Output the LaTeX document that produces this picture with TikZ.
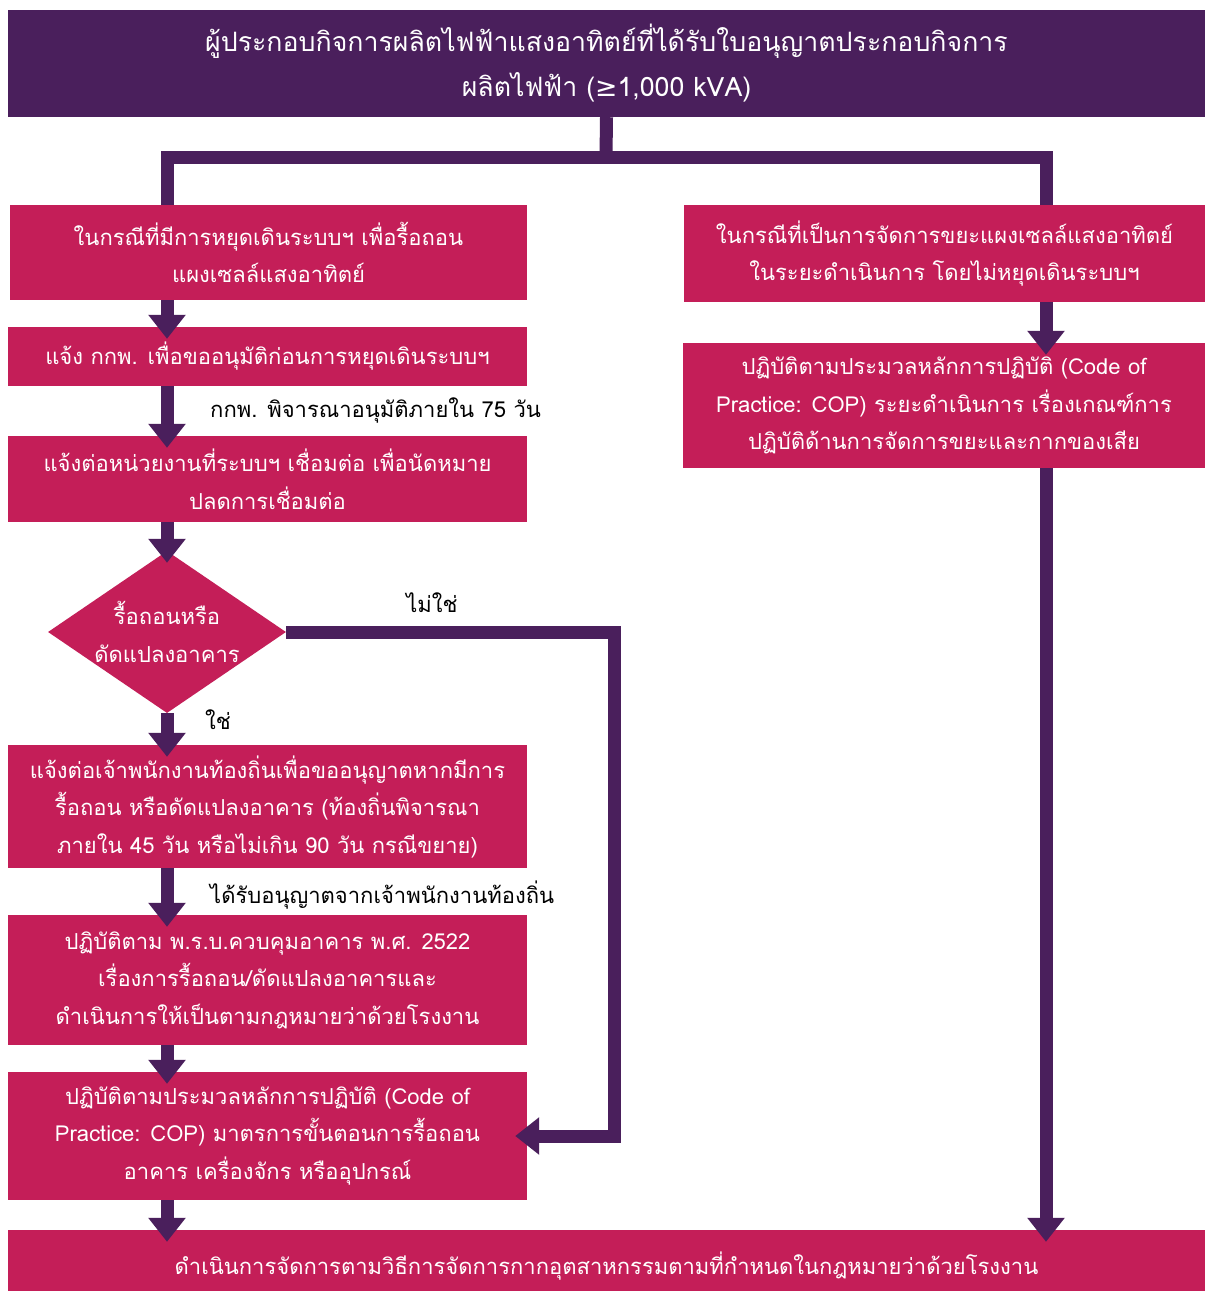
\documentclass[tikz,border=0pt]{standalone}
\usepackage{fontspec}
\setmainfont[Script=Thai]{Loma}
\newfontfamily\symfont{DejaVu Sans}
\usepackage{xcolor}
\definecolor{DeepPurple}{RGB}{74,31,92}
\definecolor{BoxPink}{RGB}{196,30,88}
\usetikzlibrary{arrows.meta, positioning, shapes.geometric, calc}
\tikzset{
  % Pink step box
  pbox/.style={
    rectangle, fill=BoxPink, text=white,
    align=center, inner sep=0pt,
    font=\fontsize{22}{37.5}\selectfont
  },
  % Purple header box
  hbox/.style={pbox, fill=DeepPurple, font=\fontsize{26.7}{45}\selectfont},
  % Decision diamond
  decision/.style={
    diamond, fill=BoxPink, text=white, align=center,
    inner sep=0pt, aspect=1.47, font=\fontsize{22}{37.5}\selectfont
  },
  % Connectors
  link/.style={DeepPurple, line width=13pt},
  arr/.style={link, -{Triangle[width=36pt,length=24pt]}, shorten >=-12pt},
  % Edge label
  elabel/.style={font=\fontsize{22}{30}\selectfont, inner sep=0pt},
}

\begin{document}
\begin{tikzpicture}[x=1pt, y=-1pt]
  \useasboundingbox (0,0) rectangle (1205,1291);
  \fill[white] (0,0) rectangle (1205,1291);

  % header
  \node[hbox, minimum width=1197pt, minimum height=107pt] (head) at (606.5,63.5)
    {ผู้ประกอบกิจการผลิตไฟฟ้าแสงอาทิตย์ที่ได้รับใบอนุญาตประกอบกิจการ\\ผลิตไฟฟ้า ({\symfont ≥}1,000 kVA)};
  \coordinate (split) at (606,157);
  \coordinate (rline) at (1046,157);

  % left branch
  \node[pbox, minimum width=517pt, minimum height=95pt] (stop) at (268.5,252.5)
    {ในกรณีที่มีการหยุดเดินระบบฯ เพื่อรื้อถอน\\แผงเซลล์แสงอาทิตย์};
  \node[pbox, minimum width=519pt, minimum height=59pt] (erc) at (267.5,356.5)
    {แจ้ง กกพ. เพื่อขออนุมัติก่อนการหยุดเดินระบบฯ};
  \node[pbox, minimum width=519pt, minimum height=86pt] (grid) at (267.5,479)
    {แจ้งต่อหน่วยงานที่ระบบฯ เชื่อมต่อ เพื่อนัดหมาย\\ปลดการเชื่อมต่อ};
  \node[decision, minimum width=238pt, minimum height=162pt] (dia) at (167,632)
    {รื้อถอนหรือ\\ดัดแปลงอาคาร};
  \node[pbox, minimum width=519pt, minimum height=123pt] (local) at (267.5,806.5)
    {แจ้งต่อเจ้าพนักงานท้องถิ่นเพื่อขออนุญาตหากมีการ\\รื้อถอน หรือดัดแปลงอาคาร (ท้องถิ่นพิจารณา\\ภายใน 45 วัน หรือไม่เกิน 90 วัน กรณีขยาย)};
  \node[pbox, minimum width=519pt, minimum height=130pt] (act) at (267.5,980)
    {ปฏิบัติตาม พ.ร.บ.ควบคุมอาคาร พ.ศ. 2522\\เรื่องการรื้อถอน/ดัดแปลงอาคารและ\\ดำเนินการให้เป็นตามกฎหมายว่าด้วยโรงงาน};
  \node[pbox, minimum width=519pt, minimum height=128pt] (copL) at (267.5,1136)
    {ปฏิบัติตามประมวลหลักการปฏิบัติ (Code of\\Practice: COP) มาตรการขั้นตอนการรื้อถอน\\อาคาร เครื่องจักร หรืออุปกรณ์};

  % right branch
  \node[pbox, minimum width=521pt, minimum height=97pt] (waste) at (944.5,253.5)
    {ในกรณีที่เป็นการจัดการขยะแผงเซลล์แสงอาทิตย์\\ในระยะดำเนินการ โดยไม่หยุดเดินระบบฯ};
  \node[pbox, minimum width=522pt, minimum height=125pt] (copR) at (944,405.5)
    {ปฏิบัติตามประมวลหลักการปฏิบัติ (Code of\\Practice: COP) ระยะดำเนินการ เรื่องเกณฑ์การ\\ปฏิบัติด้านการจัดการขยะและกากของเสีย};

  % final step
  \node[pbox, minimum width=1197pt, minimum height=72pt] (final) at (606.5,1266)
    {ดำเนินการจัดการตามวิธีการจัดการกากอุตสาหกรรมตามที่กำหนดในกฎหมายว่าด้วยโรงงาน};

  % connectors
  \draw[link] (head.south) -- (split);
  \draw[link] (stop.north -| dia.center) |- (split) -| (waste.north -| rline);
  \draw[arr] (stop.south -| dia.center) -- (erc.north -| dia.center);
  \draw[arr] (erc.south -| dia.center) -- (grid.north -| dia.center);
  \draw[arr] (grid.south -| dia.center) -- (dia.north);
  \draw[arr] (dia.south) -- (local.north -| dia.center);
  \draw[arr] (local.south -| dia.center) -- (act.north -| dia.center);
  \draw[arr] (act.south -| dia.center) -- (copL.north -| dia.center);
  \draw[arr] (copL.south -| dia.center) -- (final.north -| dia.center);
  \coordinate (noturn) at (614,632);
  \draw[arr] (dia.east) -- (noturn) |- (copL.east);
  \draw[arr] (waste.south -| rline) -- (copR.north -| rline);
  \draw[arr] (copR.south -| rline) -- (final.north -| rline);

  % labels
  \node[elabel, anchor=west] (days75) at (210,410) {กกพ. พิจารณาอนุมัติภายใน 75 วัน};
  \node[elabel] (no) at (432,603) {ไม่ใช่};
  \node[elabel] (yes) at (218,720) {ใช่};
  \node[elabel, anchor=west] (permit) at (210,895) {ได้รับอนุญาตจากเจ้าพนักงานท้องถิ่น};
\end{tikzpicture}
\end{document}
